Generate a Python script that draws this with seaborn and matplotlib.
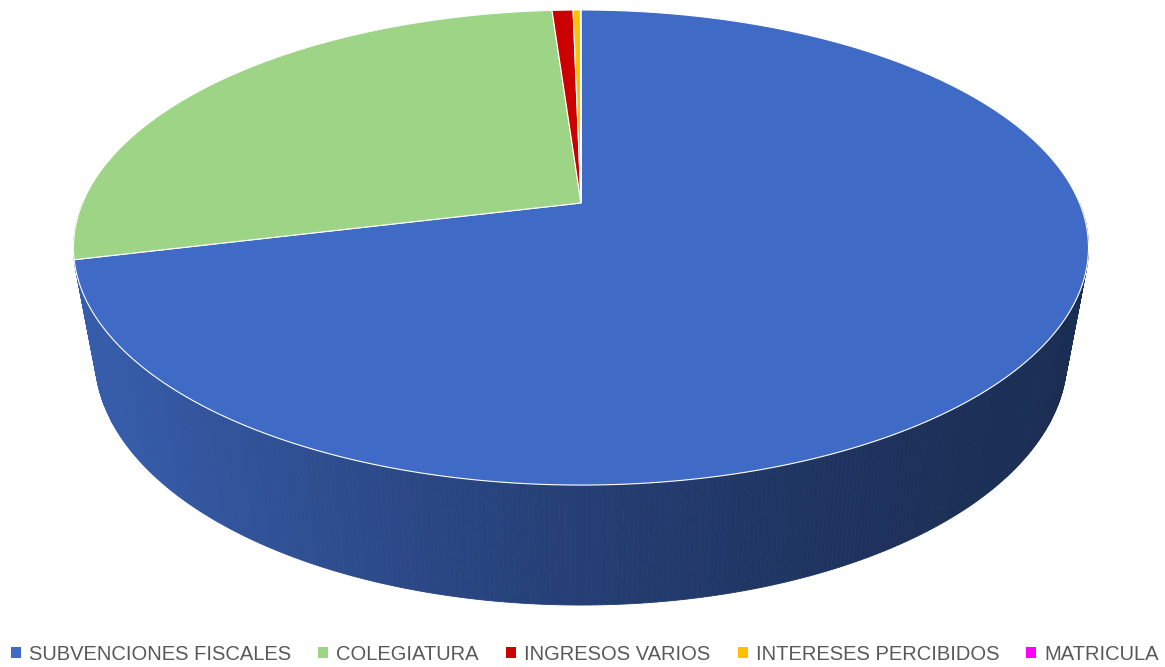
import numpy as np
import matplotlib
matplotlib.use("Agg")
import matplotlib.pyplot as plt
from matplotlib import font_manager
from matplotlib.patches import Patch
from matplotlib.colors import to_rgb
import seaborn as sns

# data (share of income, %)
categories = ["SUBVENCIONES FISCALES", "COLEGIATURA", "INGRESOS VARIOS",
              "INTERESES PERCIBIDOS", "MATRICULA"]
values = [71.2, 27.7, 0.8, 0.28, 0.02]
colors = ["#3F6BC6", "#9DD485", "#CC0000", "#FFC000", "#FF00FF"]

sns.set_theme(style="white")
names = {f.name for f in font_manager.fontManager.ttflist}
fam = "Liberation Sans Narrow" if "Liberation Sans Narrow" in names else "Liberation Sans"
plt.rcParams["font.family"] = [fam, "DejaVu Sans"]

# 3d pie geometry (perspective view, Excel style)
cx, cy = 581, 203
A, B, H = 498.5, 229.2, 114.7
p, q = 0.1874, 0.0428


def project(phi, z):
    u, v = np.cos(phi), np.sin(phi)
    w = 1 + p * v + q * z
    return cx + A * u / w, cy + (-B * v + H * z) / w


fig = plt.figure(figsize=(11.65, 6.67), dpi=100)
ax = fig.add_axes([0, 0, 1, 1])
ax.set_xlim(0, 1165)
ax.set_ylim(667, 0)
ax.set_axis_off()

fracs = np.array(values) / np.sum(values)
cum = np.concatenate([[0], np.cumsum(fracs)])
starts = np.deg2rad(90 - 360 * cum[:-1])
ends = np.deg2rad(90 - 360 * cum[1:])


def slice_of(phi):
    # angle measured clockwise from 12 o'clock
    a = np.mod(np.deg2rad(90) - phi, 2 * np.pi) / (2 * np.pi)
    return min(np.searchsorted(cum, a, side="right") - 1, len(values) - 1)


# side wall, front half only
phis = np.linspace(np.pi, 2 * np.pi, 361)
xs_all = project(phis, 0)[0]
xmin, xmax = xs_all.min(), xs_all.max()
for a0, a1 in zip(phis[:-1], phis[1:]):
    x0, y0 = project(a0, 0)
    x1, y1 = project(a1, 0)
    x2, y2 = project(a1, 1)
    x3, y3 = project(a0, 1)
    t = ((x0 + x1) / 2 - xmin) / (xmax - xmin)
    shade = 0.42 + 0.45 * (1 - t) ** 1.4
    base = np.array(to_rgb(colors[slice_of((a0 + a1) / 2)]))
    c = np.clip(base * shade, 0, 1)
    ax.fill([x0, x1, x2, x3], [y0, y1, y2, y3], color=c, lw=0.6, ec=c)

# top face wedges
for s, e, col in zip(starts, ends, colors):
    n = max(int(abs(e - s) / np.deg2rad(0.5)), 2)
    ang = np.linspace(s, e, n)
    x, y = project(ang, 0)
    ax.fill(np.r_[cx, x], np.r_[cy, y], fc=col, ec="white", lw=0.8)

handles = [Patch(fc=c, ec="none") for c in colors]
ax.legend(handles, categories, loc="lower center", bbox_to_anchor=(0.502, -0.022),
          ncol=5, frameon=False, fontsize=14.5, labelcolor="#595959",
          handlelength=0.5, handleheight=0.5, handletextpad=0.4, columnspacing=1.35)

fig.savefig("out.png", dpi=100, facecolor="white")
